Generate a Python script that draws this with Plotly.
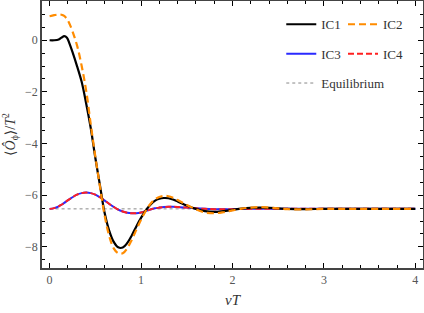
import plotly.graph_objects as go

vT = [0, 0.05, 0.1, 0.13, 0.16, 0.19, 0.22, 0.25, 0.3, 0.35, 0.4, 0.45, 0.5, 0.55,
      0.6, 0.65, 0.7, 0.75, 0.8, 0.85, 0.9, 0.95, 1.0, 1.05, 1.1, 1.15, 1.2, 1.25,
      1.3, 1.35, 1.4, 1.5, 1.6, 1.7, 1.8, 1.9, 2.0, 2.1, 2.2, 2.3, 2.4, 2.5, 2.6,
      2.8, 3.0, 3.2, 3.5, 4.0]

ic1 = [0.0, 0.0, 0.03, 0.1, 0.16, 0.1, -0.15, -0.45, -1.0, -1.6, -2.45, -3.4, -4.55, -5.6,
       -6.65, -7.35, -7.8, -8.02, -8.03, -7.85, -7.55, -7.2, -6.88, -6.6, -6.38, -6.22, -6.14, -6.11,
       -6.12, -6.17, -6.24, -6.4, -6.53, -6.62, -6.65, -6.62, -6.57, -6.52, -6.49, -6.48, -6.49, -6.51, -6.53,
       -6.54, -6.53, -6.53, -6.53, -6.53]

ic2 = [0.93, 0.97, 1.0, 0.99, 0.94, 0.82, 0.62, 0.35, -0.2, -0.98, -1.95, -3.25, -4.5, -5.65,
       -6.75, -7.55, -8.05, -8.25, -8.25, -8.05, -7.72, -7.33, -6.95, -6.62, -6.35, -6.17, -6.07, -6.03,
       -6.04, -6.1, -6.19, -6.38, -6.55, -6.67, -6.7, -6.66, -6.59, -6.52, -6.48, -6.46, -6.48, -6.51, -6.54,
       -6.55, -6.53, -6.53, -6.53, -6.53]

ic3 = [-6.53, -6.5, -6.43, -6.37, -6.3, -6.22, -6.15, -6.08, -5.98, -5.92, -5.9, -5.92, -5.98, -6.08,
       -6.2, -6.33, -6.45, -6.56, -6.63, -6.68, -6.7, -6.7, -6.67, -6.62, -6.56, -6.51, -6.48, -6.46,
       -6.45, -6.45, -6.46, -6.48, -6.51, -6.53, -6.54, -6.545, -6.54, -6.535, -6.53, -6.53, -6.53, -6.53, -6.53,
       -6.53, -6.53, -6.53, -6.53, -6.53]

ic4 = [-6.53, -6.5, -6.43, -6.37, -6.3, -6.22, -6.15, -6.08, -5.98, -5.92, -5.9, -5.92, -5.98, -6.08,
       -6.2, -6.33, -6.45, -6.56, -6.63, -6.68, -6.7, -6.7, -6.67, -6.62, -6.56, -6.51, -6.48, -6.46,
       -6.45, -6.45, -6.46, -6.48, -6.51, -6.53, -6.54, -6.545, -6.54, -6.535, -6.53, -6.53, -6.53, -6.53, -6.53,
       -6.53, -6.53, -6.53, -6.53, -6.53]

eq_x = [0, 4]
eq_y = [-6.53, -6.53]

x_ticks = [0, 1, 2, 3, 4]
y_ticks = [-8, -6, -4, -2, 0]

FONT = "Liberation Serif, Times New Roman, DejaVu Serif, serif"

fig = go.Figure()
fig.add_trace(go.Scatter(x=eq_x, y=eq_y, mode="lines", name="Equilibrium",
                         line=dict(color="#888888", width=1, dash="dot"),
                         legend="legend", legendgroup="g5", legendrank=5))
fig.add_trace(go.Scatter(x=vT, y=ic3, mode="lines", name="IC3", line_shape="spline",
                         line=dict(color="#2a2aff", width=2),
                         legend="legend", legendgroup="g3", legendrank=3))
fig.add_trace(go.Scatter(x=vT, y=ic4, mode="lines", name="IC4", line_shape="spline",
                         line=dict(color="#ff2020", width=2, dash="6px,3px"),
                         legend="legend2", legendgroup="g4", legendrank=4))
fig.add_trace(go.Scatter(x=vT, y=ic1, mode="lines", name="IC1", line_shape="spline",
                         line=dict(color="#000000", width=2.2),
                         legend="legend", legendgroup="g1", legendrank=1))
fig.add_trace(go.Scatter(x=vT, y=ic2, mode="lines", name="IC2", line_shape="spline",
                         line=dict(color="#ff8c00", width=2.2, dash="7px,4px"),
                         legend="legend2", legendgroup="g2", legendrank=2))

fig.update_layout(
    template="simple_white",
    width=424, height=313,
    margin=dict(l=42, r=1, t=1, b=45, autoexpand=False),
    plot_bgcolor="white", paper_bgcolor="white",
    font=dict(family=FONT, size=12, color="#444444"),
    xaxis=dict(
        range=[-0.083, 4.084], tickvals=x_ticks,
        showline=True, linecolor="#444444", linewidth=1.5, mirror="allticks",
        ticks="inside", ticklen=5, tickwidth=1, tickcolor="#000000",
        showgrid=False, zeroline=False, automargin=False,
        tickfont=dict(family=FONT, size=12, color="#555555"),
        minor=dict(dtick=0.2, ticks="inside", ticklen=3, tickcolor="#000000", showgrid=False),
        title=dict(text="<i>vT</i>", font=dict(family=FONT, size=15, color="#333333"), standoff=8),
    ),
    yaxis=dict(
        range=[-8.82, 1.52], tickvals=y_ticks,
        showline=True, linecolor="#444444", linewidth=1.5, mirror="allticks",
        ticks="inside", ticklen=5, tickwidth=1, tickcolor="#000000",
        showgrid=False, zeroline=False, automargin=False,
        tickfont=dict(family=FONT, size=12, color="#555555"),
        minor=dict(dtick=0.5, ticks="inside", ticklen=3, tickcolor="#000000", showgrid=False),
        title=dict(text="⟨<i>Ô</i><sub>ϕ</sub>⟩/<i>T</i><sup>2</sup>",
                   font=dict(family=FONT, size=14, color="#333333"), standoff=6),
    ),
    legend=dict(x=0.628, y=0.969, bgcolor="rgba(0,0,0,0)", borderwidth=0, traceorder="grouped",
                tracegroupgap=9.5, font=dict(family=FONT, size=13, color="#333333"),
                xanchor="left", yanchor="top", itemwidth=30),
    legend2=dict(x=0.79, y=0.969, bgcolor="rgba(0,0,0,0)", borderwidth=0, traceorder="grouped",
                 tracegroupgap=9.5, font=dict(family=FONT, size=13, color="#333333"),
                 xanchor="left", yanchor="top", itemwidth=30),
)

fig.write_html("out.html", config={"displayModeBar": False},
               post_script="document.body.style.margin='0';")
